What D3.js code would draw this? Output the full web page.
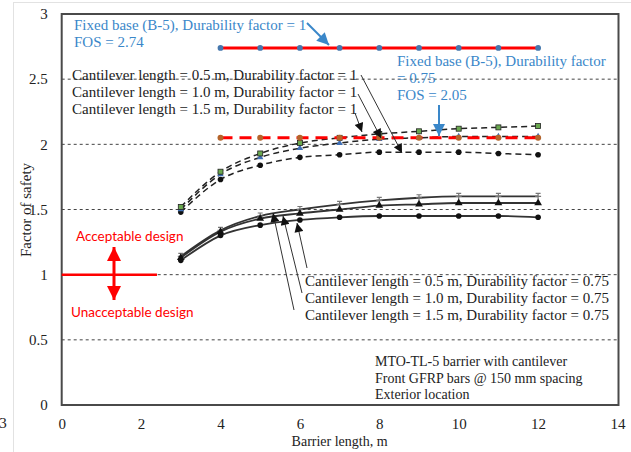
<!DOCTYPE html>
<html>
<head>
<meta charset="utf-8">
<script src="https://cdn.jsdelivr.net/npm/d3@7/dist/d3.min.js"></script>
<style>
  html, body { margin: 0; padding: 0; background: #fff; }
  svg { display: block; }
  .serif { font-family: "Liberation Serif", "Times New Roman", serif; }
</style>
</head>
<body>
<svg id="chart" width="631" height="452"></svg>
<script>
// Barrier lengths (m) analysed for each configuration
const barrierLength = [3, 4, 5, 6, 7, 8, 9, 10, 11, 12];
const fixedBaseLength = [4, 5, 6, 7, 8, 9, 10, 11, 12];

// Fixed base (B-5) factor of safety
const fixedDf1 = [2.74, 2.74, 2.74, 2.74, 2.74, 2.74, 2.74, 2.74, 2.74];
const fixedDf075 = [2.05, 2.05, 2.05, 2.05, 2.05, 2.05, 2.05, 2.05, 2.05];

// Cantilever barriers, durability factor = 1
const cant05Df1 = [1.52, 1.79, 1.93, 2.01, 2.05, 2.08, 2.10, 2.12, 2.13, 2.14];
const cant10Df1 = [1.50, 1.77, 1.90, 1.97, 2.01, 2.04, 2.05, 2.06, 2.06, 2.06];
const cant15Df1 = [1.48, 1.73, 1.84, 1.90, 1.92, 1.94, 1.94, 1.94, 1.93, 1.92];

// Cantilever barriers, durability factor = 0.75
const cant05Df075 = [1.14, 1.34, 1.45, 1.50, 1.54, 1.57, 1.59, 1.60, 1.60, 1.60];
const cant10Df075 = [1.13, 1.33, 1.43, 1.47, 1.50, 1.53, 1.54, 1.55, 1.55, 1.55];
const cant15Df075 = [1.11, 1.30, 1.38, 1.42, 1.44, 1.45, 1.45, 1.45, 1.45, 1.44];

// Axis ticks
const xTicks = [0, 2, 4, 6, 8, 10, 12, 14];
const yTicks = [0, 0.5, 1, 1.5, 2, 2.5, 3];
const gridValues = [0.5, 1, 1.5, 2, 2.5];
const acceptableLimit = 1;

const svg = d3.select("#chart");
const x = d3.scaleLinear().domain([0, 14]).range([61.7, 617.5]);
const y = d3.scaleLinear().domain([0, 3]).range([405, 14]);

const BLUE = "#3a87c9";
const RED = "#ff0000";

// Outer chart-area border
svg.append("rect").attr("x", 13.5).attr("y", 2.5).attr("width", 700).attr("height", 700)
  .attr("fill", "none").attr("stroke", "#e2e2e2").attr("stroke-width", 1);

// Arrow markers
const defs = svg.append("defs");
function marker(id, color, w, h) {
  defs.append("marker").attr("id", id)
    .attr("viewBox", "0 0 10 10").attr("refX", 10).attr("refY", 5)
    .attr("markerWidth", w).attr("markerHeight", h)
    .attr("markerUnits", "userSpaceOnUse").attr("orient", "auto-start-reverse")
    .append("path").attr("d", "M0,0 L10,5 L0,10 Z").attr("fill", color);
}
marker("headBlack", "#111", 12, 9);
marker("headBlue", BLUE, 15, 12);
marker("headRed", RED, 14, 14);

// Horizontal dashed gridlines
svg.append("g").selectAll("line").data(gridValues).join("line")
  .attr("x1", x(0)).attr("x2", x(14))
  .attr("y1", d => y(d)).attr("y2", d => y(d))
  .attr("stroke", "#444").attr("stroke-width", 1).attr("stroke-dasharray", "3,3");

// Axes (labels only, no tick marks)
const xAxis = svg.append("g").attr("class", "serif").attr("transform", `translate(0,${y(0)})`)
  .call(d3.axisBottom(x).tickValues(xTicks).tickSize(0).tickPadding(13).tickFormat(d3.format("d")));
const yAxis = svg.append("g").attr("class", "serif").attr("transform", `translate(${x(0)},0)`)
  .call(d3.axisLeft(y).tickValues(yTicks).tickSize(0).tickPadding(14).tickFormat(d => String(d)));
[xAxis, yAxis].forEach(g => {
  g.select(".domain").remove();
  g.selectAll("text").attr("font-family", "Liberation Serif, serif").attr("font-size", 15).attr("fill", "#222");
});

// Partial tick label at the far left edge
svg.append("text").attr("class", "serif").attr("x", 3).attr("y", 428)
  .attr("text-anchor", "middle").attr("font-size", 15).attr("fill", "#222").text("3");

// Plot frame
svg.append("rect").attr("x", x(0)).attr("y", y(3)).attr("width", x(14) - x(0) + 1).attr("height", y(0) - y(3))
  .attr("fill", "none").attr("stroke", "#4a4a4a").attr("stroke-width", 2);

// Acceptance limit (FOS = 1)
svg.append("line").attr("x1", x(0)).attr("x2", x(2.4))
  .attr("y1", y(acceptableLimit)).attr("y2", y(acceptableLimit))
  .attr("stroke", RED).attr("stroke-width", 2.5);
svg.append("line").attr("x1", 114).attr("x2", 114).attr("y1", 247).attr("y2", 300)
  .attr("stroke", RED).attr("stroke-width", 3)
  .attr("marker-start", "url(#headRed)").attr("marker-end", "url(#headRed)");
svg.append("text").attr("x", 76).attr("y", 241).attr("font-family", "Lato, sans-serif")
  .attr("font-size", 13.5).attr("fill", RED).text("Acceptable design");
svg.append("text").attr("x", 71).attr("y", 317).attr("font-family", "Lato, sans-serif")
  .attr("font-size", 13.5).attr("fill", RED).text("Unacceptable design");

// Series drawing helpers
const lineGen = (xs) => d3.line().x((d, i) => x(xs[i])).y(d => y(d)).curve(d3.curveMonotoneX);

function drawSeries(xs, values, opts) {
  svg.append("path").datum(values).attr("d", lineGen(xs))
    .attr("fill", "none").attr("stroke", opts.stroke).attr("stroke-width", opts.width)
    .attr("stroke-dasharray", opts.dash || null);
  const g = svg.append("g");
  values.forEach((v, i) => {
    const cx = x(xs[i]), cy = y(v);
    if (opts.marker === "circle") {
      g.append("circle").attr("cx", cx).attr("cy", cy).attr("r", opts.r || 2.8).attr("fill", opts.fill);
    } else if (opts.marker === "square") {
      g.append("rect").attr("x", cx - 2.5).attr("y", cy - 2.5).attr("width", 5).attr("height", 5)
        .attr("fill", opts.fill).attr("stroke", "#222").attr("stroke-width", 0.8);
    } else if (opts.marker === "triangle") {
      g.append("path").attr("d", d3.symbol(d3.symbolTriangle, opts.size || 22)())
        .attr("transform", `translate(${cx},${cy})`).attr("fill", opts.fill);
    } else if (opts.marker === "plus") {
      g.append("path").attr("d", `M${cx - 3},${cy}H${cx + 3}M${cx},${cy - 3}V${cy + 3}M${cx - 2.5},${cy - 3}H${cx + 2.5}`)
        .attr("stroke", "#777").attr("stroke-width", 1.2).attr("fill", "none");
    }
  });
}

// Cantilever, DF = 0.75 (solid)
drawSeries(barrierLength, cant05Df075, { stroke: "#333", width: 1.8, marker: "plus" });
drawSeries(barrierLength, cant10Df075, { stroke: "#333", width: 1.8, marker: "triangle", fill: "#111", size: 26 });
drawSeries(barrierLength, cant15Df075, { stroke: "#333", width: 1.8, marker: "circle", fill: "#111" });

// Cantilever, DF = 1 (dashed)
drawSeries(barrierLength, cant15Df1, { stroke: "#222", width: 1.5, dash: "6,4", marker: "circle", fill: "#111" });
drawSeries(barrierLength, cant10Df1, { stroke: "#222", width: 1.5, dash: "6,4", marker: "triangle", fill: "#3f6fb5", size: 18 });
drawSeries(barrierLength, cant05Df1, { stroke: "#222", width: 1.5, dash: "6,4", marker: "square", fill: "#6aa84f" });

// Fixed base
drawSeries(fixedBaseLength, fixedDf075, { stroke: RED, width: 3, dash: "12,7", marker: "circle", fill: "#b5642a", r: 3 });
drawSeries(fixedBaseLength, fixedDf1, { stroke: RED, width: 3, marker: "circle", fill: "#4577ad", r: 2.9 });

// Text annotations
function textBlock(lines, x0, y0, lh, color, size) {
  const t = svg.append("text").attr("class", "serif").attr("font-size", size).attr("fill", color);
  lines.forEach((s, i) => t.append("tspan").attr("x", x0).attr("y", y0 + i * lh).text(s));
}

textBlock(["Fixed base (B-5), Durability factor = 1", "FOS = 2.74"], 74, 30, 17, BLUE, 15);
svg.append("line").attr("x1", 307).attr("y1", 23).attr("x2", 329).attr("y2", 45)
  .attr("stroke", BLUE).attr("stroke-width", 2).attr("marker-end", "url(#headBlue)");

textBlock(["Fixed base (B-5), Durability factor", "= 0.75", "FOS = 2.05"], 397, 66, 17, BLUE, 15);
svg.append("line").attr("x1", 439).attr("y1", 105).attr("x2", 439).attr("y2", 136)
  .attr("stroke", BLUE).attr("stroke-width", 2).attr("marker-end", "url(#headBlue)");

textBlock([
  "Cantilever length = 0.5 m, Durability factor = 1",
  "Cantilever length = 1.0 m, Durability factor = 1",
  "Cantilever length = 1.5 m, Durability factor = 1"
], 72, 80, 17, "#222", 15);

function pointer(x1, y1, x2, y2) {
  svg.append("line").attr("x1", x1).attr("y1", y1).attr("x2", x2).attr("y2", y2)
    .attr("stroke", "#333").attr("stroke-width", 1).attr("marker-end", "url(#headBlack)");
}
pointer(361, 75, 402, 153);
pointer(358, 94, 381, 138);
pointer(355, 113, 362, 132);

textBlock([
  "Cantilever length = 0.5 m, Durability factor = 0.75",
  "Cantilever length = 1.0 m, Durability factor = 0.75",
  "Cantilever length = 1.5 m, Durability factor = 0.75"
], 305, 286, 17, "#222", 15);
pointer(307, 268, 297, 223);
pointer(302, 293, 283, 216);
pointer(294, 310, 273, 213);

textBlock([
  "MTO-TL-5 barrier with cantilever",
  "Front GFRP bars @ 150 mm spacing",
  "Exterior location"
], 375, 366, 16.5, "#222", 14);

// Axis titles
svg.append("text").attr("class", "serif").attr("x", x(7)).attr("y", 446)
  .attr("text-anchor", "middle").attr("font-size", 14).attr("fill", "#222").text("Barrier length, m");
svg.append("text").attr("class", "serif").attr("transform", "translate(31,210) rotate(-90)")
  .attr("text-anchor", "middle").attr("font-size", 15).attr("fill", "#222").text("Factor of safety");
</script>
</body>
</html>
